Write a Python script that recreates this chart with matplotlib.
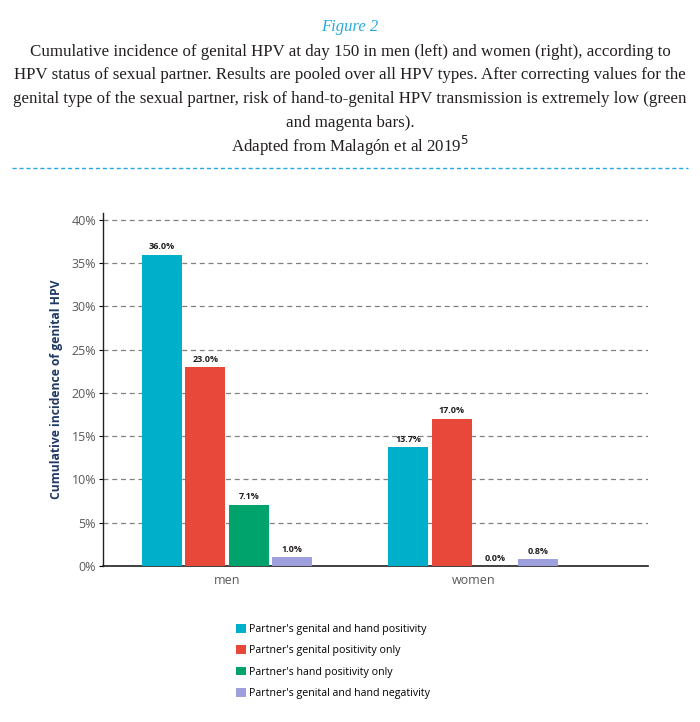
import matplotlib
matplotlib.use("Agg")
import matplotlib.pyplot as plt
from matplotlib.patches import Patch
import numpy as np

groups = ["men", "women"]
series = ["Partner's genital and hand positivity",
          "Partner's genital positivity only",
          "Partner's hand positivity only",
          "Partner's genital and hand negativity"]
values = {
    series[0]: [36.0, 13.7],
    series[1]: [23.0, 17.0],
    series[2]: [7.1, 0.0],
    series[3]: [1.0, 0.8],
}
colors = ["#00B0CA", "#E8483A", "#00A36B", "#9DA0DC"]
yticks = [0, 5, 10, 15, 20, 25, 30, 35, 40]

fig = plt.figure(figsize=(7.0, 7.22), dpi=100)

serif = ["Liberation Serif", "DejaVu Serif"]
fig.text(0.5, 1 - 27/722, "Figure 2", ha="center", va="center", fontsize=12,
         style="italic", color="#29A9E0", family=serif)
caption = ["Cumulative incidence of genital HPV at day 150 in men (left) and women (right), according to",
           "HPV status of sexual partner. Results are pooled over all HPV types. After correcting values for the",
           "genital type of the sexual partner, risk of hand-to-genital HPV transmission is extremely low (green",
           "and magenta bars).",
           "Adapted from Malagón et al 2019$^5$"]
ys = [52, 75, 99, 123, 146]
for t, y in zip(caption, ys):
    fig.text(0.5, 1 - y/722, t, ha="center", va="center", fontsize=12.2,
             color="#231F20", family=serif)
fig.add_artist(plt.Line2D([12/700, 688/700], [1 - 168/722] * 2, color="#29A9E0",
                          lw=1.0, ls=(0, (3, 2))))

ax = fig.add_axes([103/700, 1 - 566/722, (648 - 103)/700, (566 - 213)/722])
x = np.arange(len(groups))
bw = 0.163
step = 0.176
offs = (np.arange(len(series)) - 1.5) * step
for i, s in enumerate(series):
    bars = ax.bar(x + offs[i], [v / 100 for v in values[s]], width=bw,
                  color=colors[i], zorder=3)
    for b, v in zip(bars, values[s]):
        ax.text(b.get_x() + b.get_width() / 2, b.get_height() + 0.004,
                f"{v:.1f}%", ha="center", va="bottom", fontsize=6.5,
                fontweight="bold", color="#231F20", family="Open Sans")

ax.set_xlim(-0.504, 1.71)
ax.set_ylim(0, 0.408)
ax.set_yticks([t / 100 for t in yticks])
ax.set_yticklabels([f"{t}%" for t in yticks], family="Open Sans", fontsize=9, color="#595959")
ax.set_xticks(x)
ax.set_xticklabels(groups, family="Open Sans", fontsize=9, color="#595959")
ax.tick_params(axis="y", length=3, width=0.8, pad=2)
ax.tick_params(axis="x", length=0, pad=6)
ax.yaxis.grid(True, ls=(0, (4, 3)), color="#808080", lw=0.9, zorder=0)
ax.set_axisbelow(True)
for sp in ["top", "right"]:
    ax.spines[sp].set_visible(False)
ax.spines["left"].set_color("#231F20")
ax.spines["bottom"].set_color("#231F20")
ax.spines["left"].set_linewidth(1.0)
ax.spines["bottom"].set_linewidth(1.2)
ax.set_ylabel("Cumulative incidence of genital HPV", family="Open Sans", fontsize=8.7,
              fontweight="bold", color="#1F3864", labelpad=6)

handles = [Patch(facecolor=c, edgecolor="none") for c in colors]
fig.legend(handles, series, loc="upper left", bbox_to_anchor=(236/700, 1 - 624/722),
           frameon=False, prop={"family": "Open Sans", "size": 7.7},
           handlelength=0.9, handleheight=0.9, handletextpad=0.3, labelspacing=0.95,
           borderaxespad=0, borderpad=0)

fig.savefig("out.png", dpi=100)
